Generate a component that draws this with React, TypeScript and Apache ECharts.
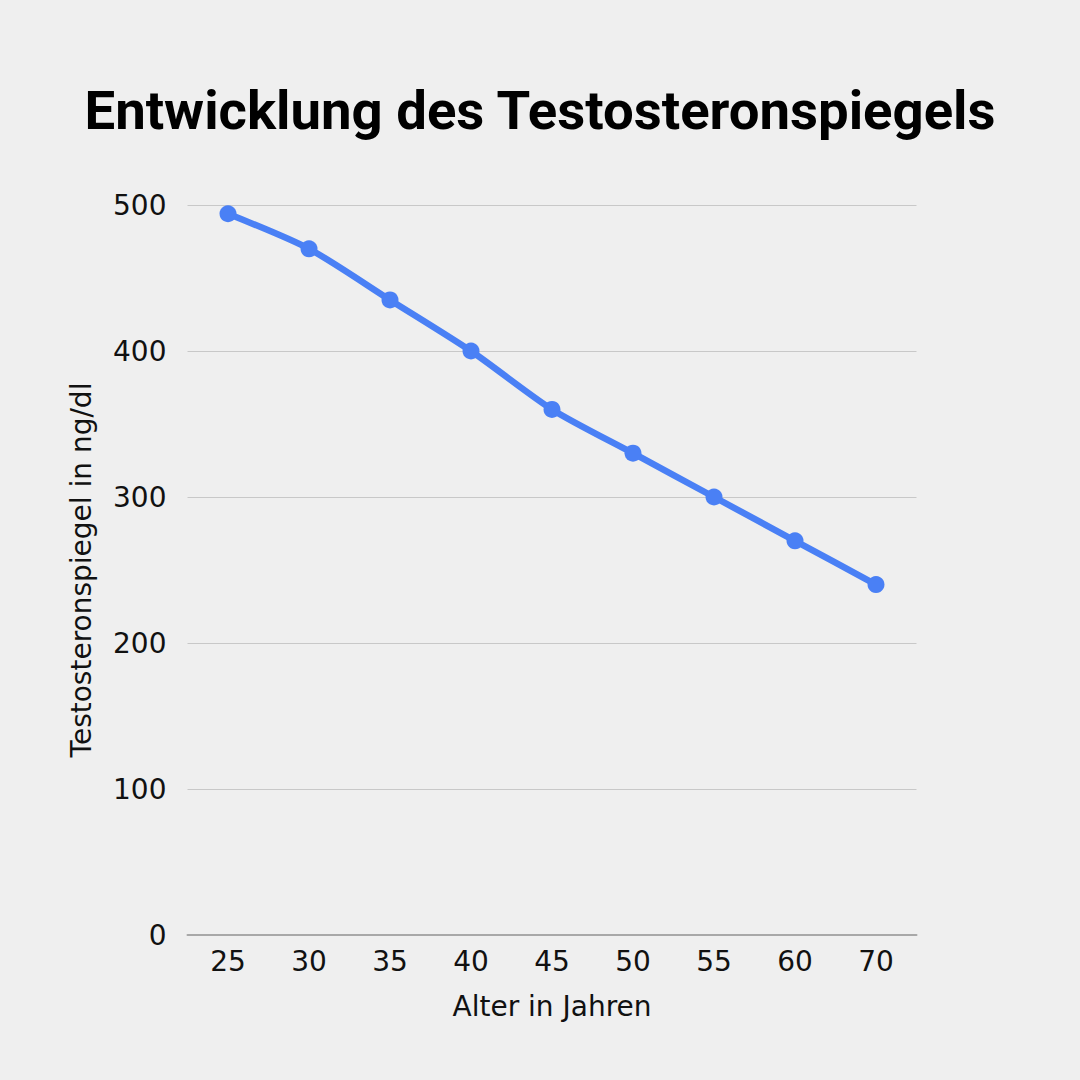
import React, { useEffect, useRef } from "react";
import * as echarts from "echarts";

const ages = ["25", "30", "35", "40", "45", "50", "55", "60", "70"];
const testosterone = [494, 470, 435, 400, 360, 330, 300, 270, 240];
const titleText = "Entwicklung des Testosteronspiegels";
const xName = "Alter in Jahren";
const yName = "Testosteronspiegel in ng/dl";

export default function App() {
  const ref = useRef<HTMLDivElement>(null);
  useEffect(() => {
    document.body.style.margin = "0";
    const chart = echarts.init(ref.current!, undefined, { renderer: "svg" });
    const font = "'DejaVu Sans', sans-serif";
    chart.setOption({
      animation: false,
      backgroundColor: "#efefef",
      title: {
        text: titleText,
        left: "center",
        top: 77,
        textStyle: {
          fontFamily: "Roboto, sans-serif",
          fontWeight: "bold",
          fontSize: 54.5,
          color: "#000000",
        },
      },
      grid: { left: 187.5, right: 163.5, top: 205, bottom: 145, containLabel: false },
      xAxis: {
        type: "category",
        data: ages,
        boundaryGap: true,
        name: xName,
        nameLocation: "middle",
        nameGap: 57,
        nameTextStyle: { fontFamily: font, fontSize: 28, color: "#111" },
        axisLine: { show: true, lineStyle: { color: "#a8a8a8", width: 2 } },
        axisTick: { show: false },
        axisLabel: { fontFamily: font, fontSize: 28, color: "#111", margin: 12 },
      },
      yAxis: {
        type: "value",
        min: 0,
        max: 500,
        interval: 100,
        name: yName,
        nameLocation: "middle",
        nameGap: 92,
        nameTextStyle: { fontFamily: font, fontSize: 28, color: "#111" },
        axisLine: { show: false },
        axisTick: { show: false },
        axisLabel: { fontFamily: font, fontSize: 28, color: "#111", margin: 21 },
        splitLine: { lineStyle: { color: "#c8c8c8", width: 1 } },
      },
      series: [
        {
          type: "line",
          data: testosterone,
          smooth: 0.25,
          symbol: "circle",
          symbolSize: 17,
          lineStyle: { color: "#4a80f5", width: 6.5 },
          itemStyle: { color: "#4a80f5" },
        },
      ],
    });
    return () => chart.dispose();
  }, []);
  return (
    <div
      ref={ref}
      style={{ position: "absolute", left: 0, top: 0, width: 1080, height: 1080 }}
    />
  );
}
